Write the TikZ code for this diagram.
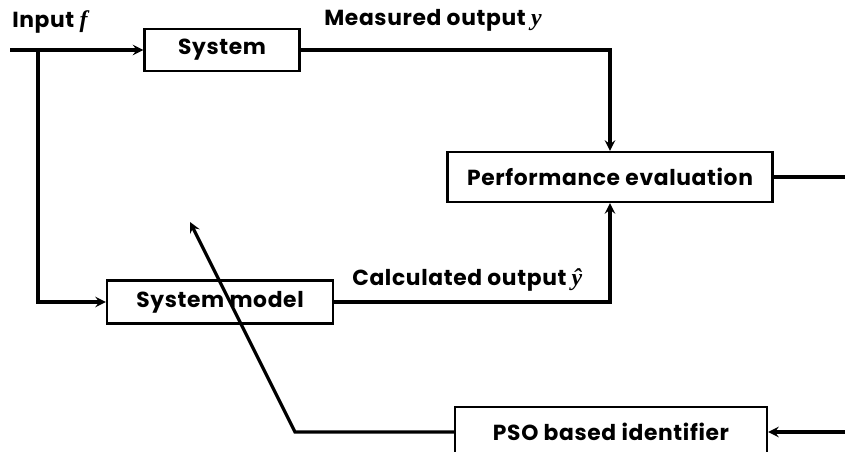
\documentclass[tikz,border=0pt]{standalone}
\usepackage{fontspec}
\setmainfont{Poppins}[LetterSpace=3]
\newfontfamily\varfont{Liberation Serif}
\usepackage{tikz}

\newcommand{\var}[1]{{\varfont\itshape\fontsize{17}{19}\selectfont #1}}

\begin{document}
\begin{tikzpicture}[
      box/.style={rectangle,draw,line width=1.5pt,inner sep=0pt,
                  align=center,font=\fontsize{15.5}{17}\selectfont\bfseries},
      lbl/.style={font=\fontsize{15.5}{17}\selectfont\bfseries,inner sep=0pt},
      arr/.style={->,line width=2.3pt,>=stealth},
      ln/.style={line width=2.3pt}]
    \useasboundingbox (0,0) rectangle (21.125,-11.3);
    %% ── Blocks ───────────────────────────────────────────────
    \node[box,minimum width=3.875cm,minimum height=1.05cm]  (sys)   at (5.55,-1.25)   {System};
    \node[box,minimum width=5.65cm,minimum height=1.075cm]  (model) at (5.5,-7.55)    {System model};
    \node[box,minimum width=8.125cm,minimum height=1.25cm]  (perf)  at (15.25,-4.425) {Performance evaluation};
    \node[box,minimum width=7.8cm,minimum height=1.25cm]    (pso)   at (15.275,-10.8) {PSO based identifier};
    %% ── Labels ───────────────────────────────────────────────
    \node[lbl,anchor=west] (inlbl)   at (0.3,-0.55)  {Input \var{f}};
    \node[lbl,anchor=west] (measlbl) at (8.1,-0.5)   {Measured output \var{y}};
    \node[lbl,anchor=west] (calclbl) at (8.8,-7.0)   {Calculated output \var{ŷ}};
    %% ── Free ends ────────────────────────────────────────────
    \coordinate (in)     at (0.25,-1.25);
    \coordinate (split)  at (0.95,-1.25);
    \coordinate (out)    at (21.125,-4.425);
    \coordinate (psoin)  at (21.125,-10.8);
    \coordinate (bend)   at (7.375,-10.8);
    \coordinate (tip)    at (4.75,-5.55);
    %% ── Arrows ───────────────────────────────────────────────
    \draw[arr] (in)--(sys);
    \draw[arr] (split)|-(model);
    \draw[arr] (sys.east)-|(perf.north);
    \draw[arr] (model.east)-|(perf.south);
    \draw[ln]  (perf.east)--(out);
    \draw[arr] (psoin)--(pso.east);
    \draw[arr] (pso.west)--(bend)--(tip);
  \end{tikzpicture}
\end{document}
